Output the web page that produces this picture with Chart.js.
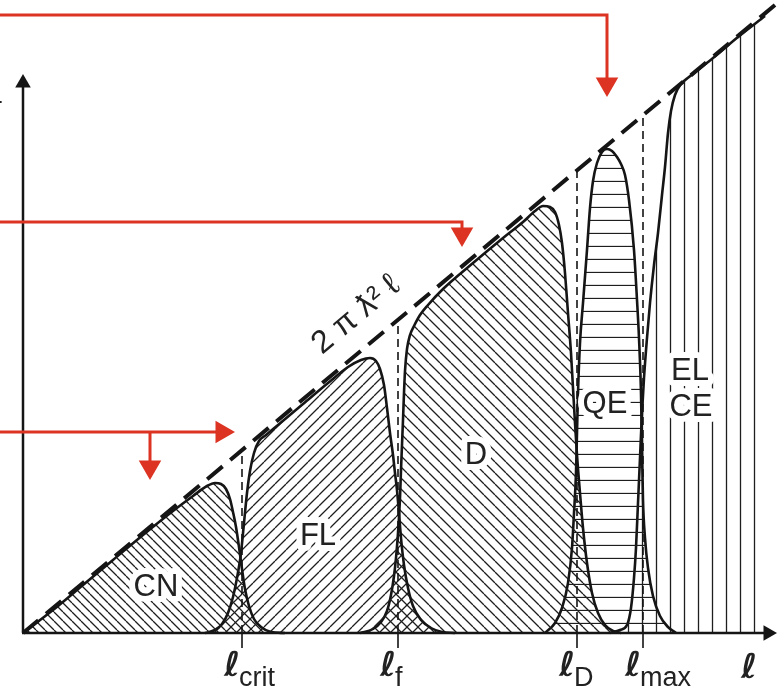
<!DOCTYPE html>
<html><head><meta charset="utf-8">
<script src="https://cdn.jsdelivr.net/npm/chart.js@4.4.0/dist/chart.umd.min.js"></script>
<style>html,body{margin:0;padding:0;background:#fff;overflow:hidden}#wrap{width:781px;height:692px;position:relative}</style>
</head><body><div id="wrap"><canvas id="c"></canvas></div>
<script>
// ---- data: x = angular momentum l, y = partial cross-section (arbitrary units) ----
const lMarks = [219, 375, 554, 620];
const lMarkNames = ['crit', 'f', 'D', 'max'];
const lMarkHeights = [183, 313, 463, 518];
const unitarityLine = [[0, 0], [752, 628]];

const cnCurve = [[0,0],[30,23],[60,48],[90,73],[120,98],[150,122],[170,137],[184,147],[192,150],[198,149],[203,144],[207,134],[210,121],[213,106],[216,86],[219,64],[222,44],[226,27],[231,14],[238,6],[248,1],[262,0]];
const flCurve = [[182,0],[192,3],[199,9],[205,20],[210,36],[214,55],[218,80],[221,110],[224,140],[227,162],[231,180],[236,192],[243,198],[255,208],[280,229],[305,250],[325,266],[338,273],[347,275],[353,272],[357,264],[361,248],[364,225],[367,200],[370,178],[372,160],[374,143],[376,120],[378,95],[381,68],[385,45],[390,27],[398,13],[408,5],[419,1],[432,0]];
const dCurve = [[337,0],[350,4],[358,11],[364,22],[368,38],[371,57],[373,75],[375,100],[377,135],[378,163],[380,213],[381,240],[382,262],[384,284],[387,298],[391,307],[397,318],[405,328],[420,344],[450,370],[480,395],[500,411],[512,422],[520,427],[527,426],[532,421],[536,408],[539,390],[542,360],[545,320],[548,280],[550,245],[552,210],[554,178],[557,140],[560,105],[564,70],[569,40],[575,20],[582,8],[590,2],[598,0]];
const qeCurve = [[522,0],[532,10],[539,25],[545,50],[549,85],[551,120],[553,160],[554,200],[555,240],[557,290],[560,330],[564,383],[567,425],[570,452],[574,470],[579,481],[584,484],[589,482],[594,476],[598,469],[602,458],[606,433],[611,383],[614,333],[616,295],[618,240],[619,185],[620,133],[622,95],[625,65],[630,37],[637,17],[645,6],[653,0]];
const elCurve = [[587,0],[597,3],[604,8],[608,25],[611,55],[613,85],[615,130],[617,175],[619,220],[621,255],[624,295],[627,330],[631,368],[635,400],[639,438],[642,466],[645,500],[648,522],[652,538],[658,549],[666,556],[690,575],[715,596],[742,617]];

const arrowTop = [[-23,618],[584,618],[584,549]];
const arrowMid = [[-23,411],[439,411],[439,399]];
const arrowLow = [[-23,201],[199,201]];
const arrowLowBranch = [[127,201],[127,166]];
const yAxisPts = [[0,0],[0,550]];
const xAxisPts = [[-1,0],[745,0]];

// ---- helpers ----
const toPts = a => a.map(p => ({x: p[0], y: p[1]}));
function hatch(kind, size, off) {
  const c = document.createElement('canvas'); c.width = size; c.height = size;
  const g = c.getContext('2d'); g.strokeStyle = '#1e1e1e'; g.lineWidth = 1.3; g.beginPath();
  if (kind === 'back') { for (let k = -1; k <= 1; k++) { g.moveTo(k*size, 0); g.lineTo(k*size+size, size); } }
  else if (kind === 'fwd') { for (let k = -1; k <= 1; k++) { g.moveTo(k*size, size); g.lineTo(k*size+size, 0); } }
  else if (kind === 'h') { g.moveTo(0, off+0.5); g.lineTo(size, off+0.5); }
  else { g.moveTo(off+0.5, 0); g.lineTo(off+0.5, size); }
  g.stroke();
  return g.createPattern(c, 'repeat');
}
const RED = '#dc3322';
const INK = '#151515';

function arrowDs(pts, rot) {
  const n = pts.length;
  return {data: toPts(pts), showLine: true, borderColor: RED, borderWidth: 3,
    pointRadius: pts.map((p,i) => i === n-1 ? 13 : 0), pointRotation: pts.map(() => rot),
    pointStyle: 'triangle', pointBackgroundColor: RED, pointBorderColor: RED, pointBorderWidth: 0, fill: false};
}
function curveDs(pts, pat) {
  return {data: toPts(pts), showLine: true, borderColor: INK, borderWidth: 2.6, pointRadius: 0,
    fill: 'origin', backgroundColor: pat, cubicInterpolationMode: 'monotone'};
}

const datasets = [
  arrowDs(arrowTop, 180), arrowDs(arrowMid, 180), arrowDs(arrowLow, 90), arrowDs(arrowLowBranch, 180),
  {data: toPts(yAxisPts), showLine: true, borderColor: INK, borderWidth: 2.5, pointRadius: [0, 9], pointRotation: 0, pointStyle: 'triangle', pointBackgroundColor: INK, pointBorderWidth: 0, fill: false},
  {data: toPts(xAxisPts), showLine: true, borderColor: INK, borderWidth: 2.5, pointRadius: [0, 9], pointRotation: 90, pointStyle: 'triangle', pointBackgroundColor: INK, pointBorderWidth: 0, fill: false},
  {data: toPts(unitarityLine), showLine: true, borderColor: INK, borderWidth: 4, borderDash: [20, 10], borderCapStyle: 'butt', pointRadius: 0, fill: false}
];
lMarks.forEach((v, i) => {
  datasets.push({data: [{x: v, y: 0}, {x: v, y: lMarkHeights[i]}], showLine: true, borderColor: INK, borderWidth: 1.6, borderDash: [8, 5], pointRadius: 0, fill: false});
  datasets.push({data: [{x: v, y: 0}, {x: v, y: -15}], showLine: true, borderColor: INK, borderWidth: 1.6, pointRadius: 0, fill: false});
});
datasets.push(curveDs(cnCurve, hatch('back', 9)));
datasets.push(curveDs(flCurve, hatch('fwd', 11)));
datasets.push(curveDs(dCurve, hatch('back', 11)));
datasets.push(curveDs(qeCurve, hatch('h', 13, 12)));
datasets.push(curveDs(elCurve, hatch('v', 14, 12)));

const annot = {
  id: 'annot',
  afterDatasetsDraw(chart) {
    const {ctx} = chart, sx = chart.scales.x, sy = chart.scales.y;
    const X = v => sx.getPixelForValue(v), Y = v => sy.getPixelForValue(v);
    ctx.save();
    // region names with white knock-out
    const regions = [['CN',133,46],['FL',295,97],['D',453,178],['QE',582,229],['EL',667,262],['CE',668,226]];
    ctx.font = '31px "Liberation Sans", Arial, sans-serif';
    ctx.textAlign = 'center'; ctx.textBaseline = 'middle'; ctx.lineJoin = 'round';
    regions.forEach(r => {
      ctx.lineWidth = 12; ctx.strokeStyle = '#fff'; ctx.strokeText(r[0], X(r[1]), Y(r[2]));
      ctx.fillStyle = '#222'; ctx.fillText(r[0], X(r[1]), Y(r[2]));
    });
    // unitarity label
    ctx.save();
    ctx.translate(X(333), Y(318));
    ctx.rotate(-Math.atan(0.835));
    ctx.font = '32px "Liberation Sans", "DejaVu Sans", sans-serif';
    ctx.fillStyle = '#222';
    ctx.fillText('2 π ƛ² ℓ', 0, 0);
    ctx.restore();
    // l marks
    ctx.textBaseline = 'alphabetic';
    const lFont = 'bold oblique 34px "DejaVu Sans", sans-serif';
    lMarks.forEach((v, i) => {
      const x = X(v);
      ctx.textAlign = 'right'; ctx.font = lFont;
      ctx.fillText('ℓ', x - 2, Y(-43));
      ctx.textAlign = 'left'; ctx.font = '27px "Liberation Sans", Arial, sans-serif';
      ctx.fillText(lMarkNames[i], x - 3, Y(-53));
    });
    ctx.textAlign = 'center'; ctx.font = lFont;
    ctx.fillText('ℓ', X(726), Y(-45));
    // clipped y-axis label
    ctx.textAlign = 'left'; ctx.font = '28px "Liberation Sans", Arial, sans-serif';
    ctx.fillText('L', X(-36), Y(530));
    ctx.restore();
  }
};

new Chart(document.getElementById('c'), {
  type: 'scatter',
  data: {datasets},
  options: {
    responsive: true, maintainAspectRatio: false, animation: false, devicePixelRatio: 1,
    layout: {padding: 0, autoPadding: false},
    scales: {x: {type: 'linear', min: -23, max: 758, display: false}, y: {type: 'linear', min: -59, max: 633, display: false}},
    plugins: {legend: {display: false}, tooltip: {enabled: false}},
    elements: {line: {tension: 0}}
  },
  plugins: [annot]
});
</script></body></html>
